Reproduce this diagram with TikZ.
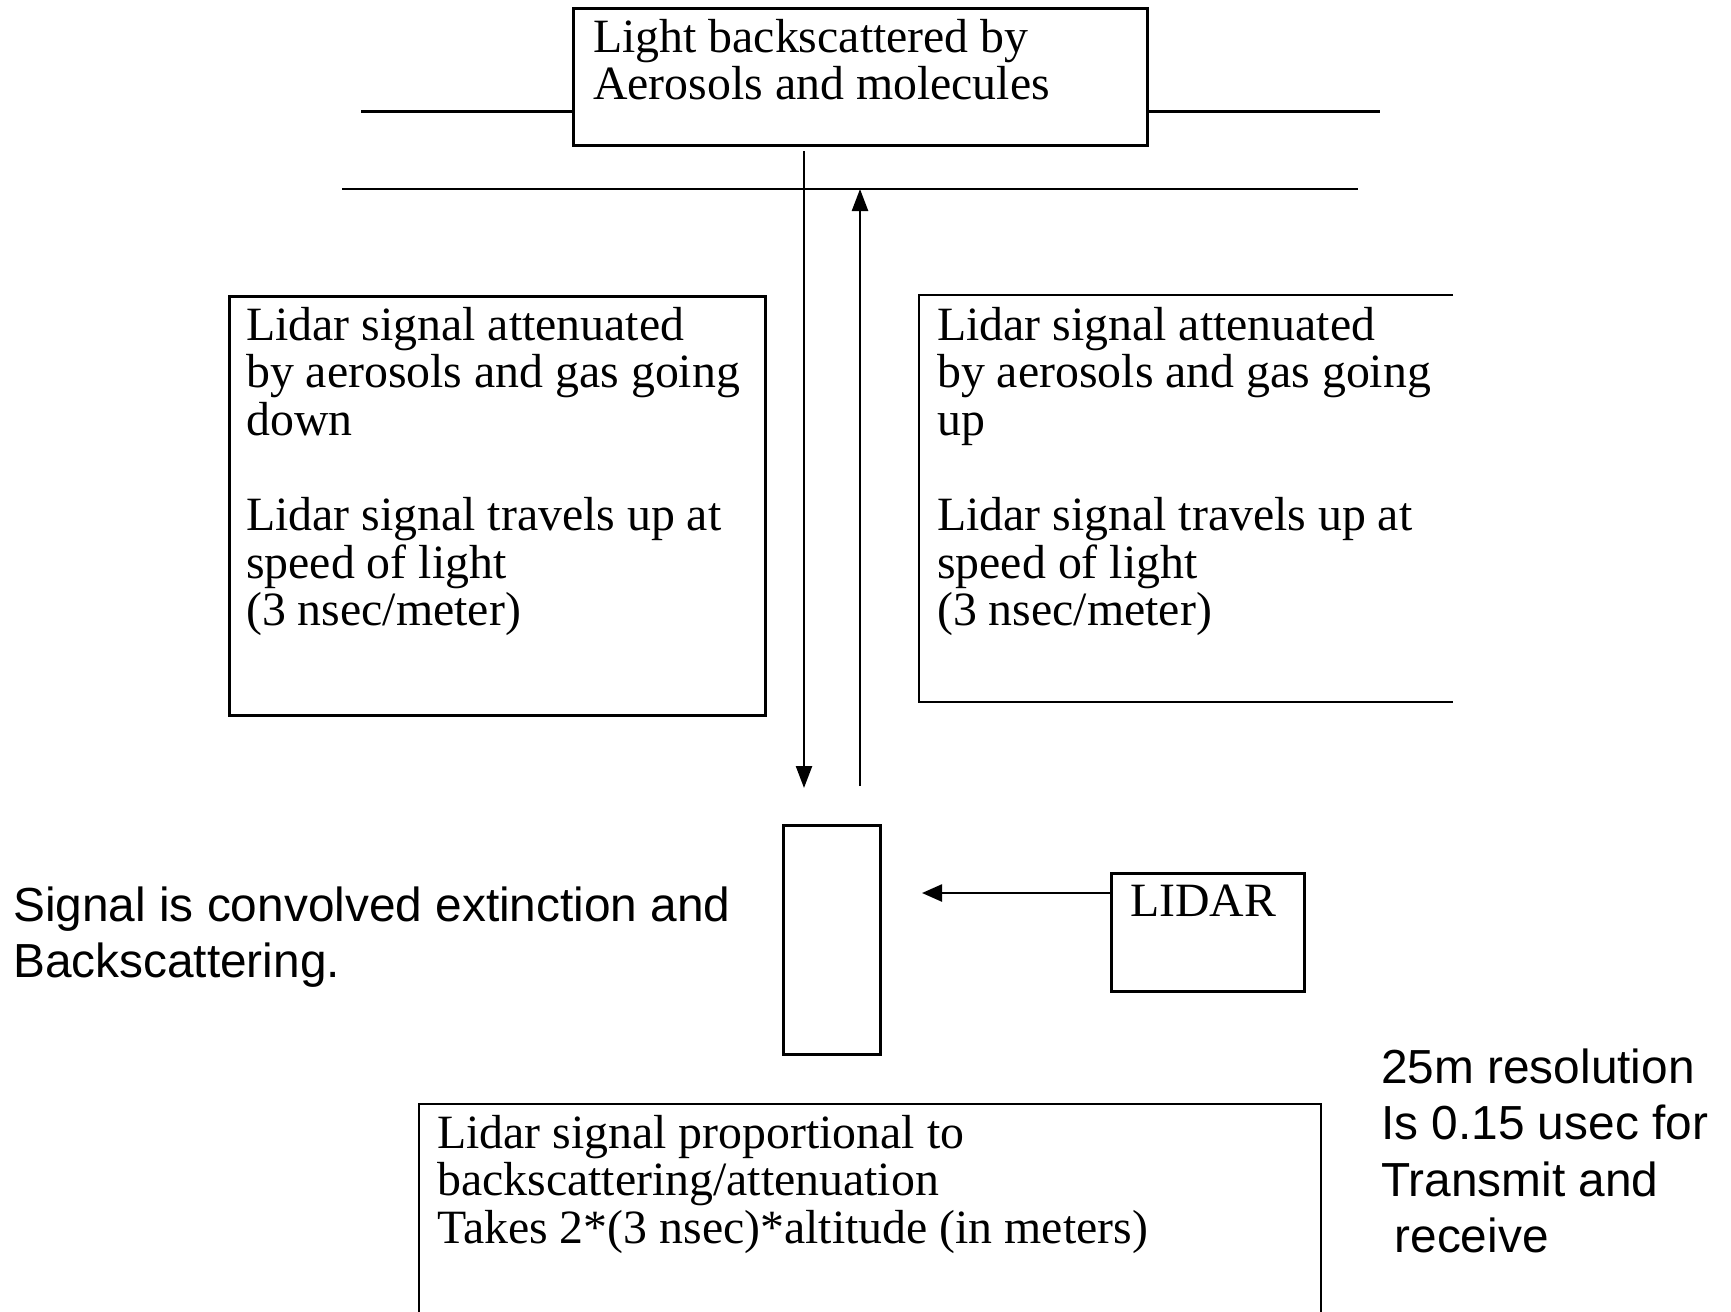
\documentclass[tikz,border=0pt]{standalone}
\usepackage{fontspec}
\setmainfont{Liberation Serif}
\setsansfont{Liberation Sans}
\usetikzlibrary{arrows.meta}
\tikzset{
  boxline/.style={draw=black, line width=2.8pt},
  conn/.style={draw=black, line width=2.4pt},
  tiparrow/.style={conn, -{Triangle[width=16pt,length=22pt]}},
  sertext/.style={anchor=north west, inner sep=0pt, align=left,
    font=\fontsize{47.8}{47.6}\selectfont},
  santext/.style={anchor=north west, inner sep=0pt, align=left,
    font=\fontsize{47.8}{56.5}\selectfont\sffamily},
  emptybox/.style={boxline, rectangle, inner sep=0pt, anchor=north west}
}
\newcommand{\firstline}{\rule{0pt}{40pt}}
\begin{document}
\begin{tikzpicture}[x=1pt,y=-1pt]
\useasboundingbox (0,0) rectangle (1731,1311);
\clip (0,0) rectangle (1731,1311);
\fill[white] (0,0) rectangle (1731,1311);

% top box
\node[emptybox, minimum width=574pt, minimum height=137pt] (top) at (572,7) {};
\node[sertext] (toptext) at (593,12) {\firstline Light backscattered by\\Aerosols and molecules};
\coordinate (tl) at (361,111.5);
\coordinate (tr) at (1380,111.5);
\draw[conn] (tl) -- (tl -| top.west);
\draw[conn] (top.east |- tr) -- (tr);

% second horizontal line
\coordinate (hl) at (342,189);
\coordinate (hr) at (1358,189);
\draw[conn] (hl) -- (hr);

% left box
\node[emptybox, minimum width=536pt, minimum height=419pt] (lbox) at (228,295) {};
\node[sertext] (ltext) at (246,300) {\firstline Lidar signal attenuated\\by aerosols and gas going\\down\\[47.6pt]Lidar signal travels up at\\speed of light\\(3 nsec/meter)};

% right box (open on the right)
\coordinate (rb1) at (1453,295);
\coordinate (rb2) at (919,295);
\coordinate (rb3) at (919,702);
\coordinate (rb4) at (1453,702);
\draw[boxline] (rb1) -- (rb2) -- (rb3) -- (rb4);
\node[sertext] (rtext) at (937,300) {\firstline Lidar signal attenuated\\by aerosols and gas going\\up\\[47.6pt]Lidar signal travels up at\\speed of light\\(3 nsec/meter)};

% vertical arrows
\coordinate (dstart) at (804,151);
\coordinate (dend) at (804,788);
\coordinate (ustart) at (860,786);
\draw[tiparrow] (dstart) -- (dend);
\draw[tiparrow] (ustart) -- (ustart |- hl);

% small rectangle
\node[emptybox, minimum width=97pt, minimum height=229pt] (small) at (782,824) {};

% LIDAR box
\node[emptybox, minimum width=193pt, minimum height=118pt] (lidar) at (1110,872) {};
\node[sertext] (lidartext) at (1130,876) {\firstline LIDAR};
\coordinate (lidarin) at (1110,893);
\coordinate (larrow) at (922,893);
\draw[conn, -{Triangle[width=17pt,length=20pt]}] (lidarin) -- (larrow);

% left sans text
\node[santext] (signal) at (13,881) {\firstline Signal is convolved extinction and\\Backscattering.};

% bottom box (open at the bottom)
\coordinate (bb1) at (419,1330);
\coordinate (bb2) at (419,1104);
\coordinate (bb3) at (1321,1104);
\coordinate (bb4) at (1321,1330);
\draw[boxline] (bb1) -- (bb2) -- (bb3) -- (bb4);
\node[sertext] (btext) at (437,1108) {\firstline Lidar signal proportional to\\backscattering/attenuation\\Takes 2*(3 nsec)*altitude (in meters)};

% right sans text
\node[santext] (res) at (1381,1043) {\firstline 25m resolution\\Is 0.15 usec for\\Transmit and\\\hspace*{0.28em}receive};
\end{tikzpicture}
\end{document}
